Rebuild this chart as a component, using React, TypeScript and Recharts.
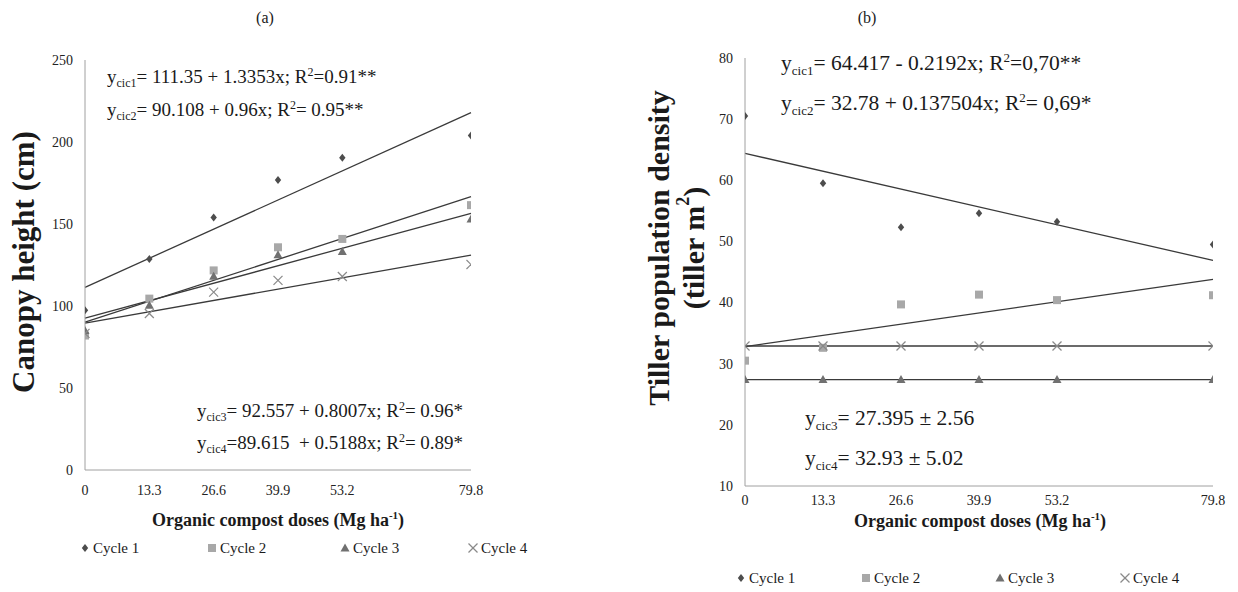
import React from 'react';
import { ComposedChart, Scatter, XAxis, YAxis, ReferenceLine, Customized } from 'recharts';

// ---- data ----
const doses = [0, 13.3, 26.6, 39.9, 53.2, 79.8];
const xTicks = [0, 13.3, 26.6, 39.9, 53.2, 79.8];
const heightTicks = [0, 50, 100, 150, 200, 250];
const tillerTicks = [10, 20, 30, 40, 50, 60, 70, 80];

const heightCycle1 = [97.4, 128.7, 154.0, 176.8, 190.4, 203.9];
const heightCycle2 = [82.0, 104.5, 121.7, 135.8, 140.9, 161.5];
const heightCycle3 = [85.0, 100.4, 118.2, 131.2, 133.2, 153.0];
const heightCycle4 = [83.3, 95.4, 108.5, 115.6, 118.0, 125.3];

const heightTrend1 = [111.35, 217.9];
const heightTrend2 = [90.1, 166.7];
const heightTrend3 = [92.6, 156.5];
const heightTrend4 = [89.6, 131.0];

const tillerCycle1 = [70.5, 59.5, 52.3, 54.6, 53.2, 49.5];
const tillerCycle2 = [30.5, 32.6, 39.7, 41.3, 40.4, 41.2];
const tillerCycle3 = [27.4, 27.4, 27.4, 27.4, 27.4, 27.4];
const tillerCycle4 = [32.9, 32.9, 32.9, 32.9, 32.9, 32.9];

const tillerTrend1 = [64.4, 46.9];
const tillerTrend2 = [32.8, 43.8];
const tillerTrend3 = [27.4, 27.4];
const tillerTrend4 = [32.9, 32.9];

const trendX = [0, 79.8];
const legendLabels = ['Cycle 1', 'Cycle 2', 'Cycle 3', 'Cycle 4'];

const toPoints = (ys: number[]) => doses.map((x, i) => ({ x, y: ys[i] }));
const toSegment = (ys: number[]) => trendX.map((x, i) => ({ x, y: ys[i] }));

// ---- styles ----
const FONT = 'Liberation Serif';
const TEXT = '#1a1a1a';
const AXIS = '#a0a0a0';
const TREND = '#3a3a3a';
const C1 = '#4d4d4d';
const C2 = '#a8a8a8';
const C3 = '#707070';
const C4 = '#8a8a8a';

const Diamond = (p: any) => {
  const { cx, cy } = p;
  if (cx == null || cy == null) return null;
  const s = 4;
  return <path d={`M${cx},${cy - s}L${cx + s * 0.8},${cy}L${cx},${cy + s}L${cx - s * 0.8},${cy}Z`} fill={C1} />;
};
const Square = (p: any) => {
  const { cx, cy } = p;
  if (cx == null || cy == null) return null;
  return <rect x={cx - 4} y={cy - 4} width={8} height={8} fill={C2} />;
};
const Triangle = (p: any) => {
  const { cx, cy } = p;
  if (cx == null || cy == null) return null;
  return <path d={`M${cx},${cy - 4.5}L${cx + 4.5},${cy + 3.5}L${cx - 4.5},${cy + 3.5}Z`} fill={C3} />;
};
const Cross = (p: any) => {
  const { cx, cy } = p;
  if (cx == null || cy == null) return null;
  const s = 4.5;
  return (
    <g stroke={C4} strokeWidth={1.2}>
      <line x1={cx - s} y1={cy - s} x2={cx + s} y2={cy + s} />
      <line x1={cx - s} y1={cy + s} x2={cx + s} y2={cy - s} />
    </g>
  );
};
const shapes = [Diamond, Square, Triangle, Cross];

const XTick = (p: any) => (
  <text x={p.x} y={p.y} dy="0.8em" textAnchor="middle" fontFamily={FONT} fontSize={14} fill="#222">
    {p.payload.value}
  </text>
);
const YTick = (p: any) => (
  <text x={p.x} y={p.y} dy="0.35em" textAnchor="end" fontFamily={FONT} fontSize={14} fill="#222">
    {p.payload.value}
  </text>
);

const Eq = ({ x, y, fs, sub, body, r2 }: { x: number; y: number; fs: number; sub: string; body: string; r2?: string }) => {
  const subFs = Math.round(fs * 0.62);
  const dSub = Math.round(fs * 0.22);
  const dSup = Math.round(fs * 0.35);
  return (
    <text x={x} y={y} fontFamily={FONT} fontSize={fs} fill={TEXT} style={{ whiteSpace: 'pre' }}>
      <tspan>y</tspan>
      <tspan fontSize={subFs} dy={dSub}>{sub}</tspan>
      <tspan fontSize={fs} dy={-dSub}>{body}</tspan>
      {r2 !== undefined && (
        <>
          <tspan fontSize={subFs} dy={-dSup}>2</tspan>
          <tspan fontSize={fs} dy={dSup}>{r2}</tspan>
        </>
      )}
    </text>
  );
};

const LegendRow = ({ y, xs }: { y: number; xs: number[] }) => (
  <g>
    {legendLabels.map((label, i) => {
      const Shape = shapes[i];
      return (
        <g key={label}>
          <Shape cx={xs[i]} cy={y} />
          <text x={xs[i] + 8} y={y} dy="0.35em" fontFamily={FONT} fontSize={15} fill={TEXT}>
            {label}
          </text>
        </g>
      );
    })}
  </g>
);

const XTitle = ({ cx, cy }: { cx: number; cy: number }) => (
  <text x={cx} y={cy} dy="0.35em" textAnchor="middle" fontFamily={FONT} fontSize={18} fontWeight="bold" fill={TEXT}>
    <tspan>Organic compost doses (Mg ha</tspan>
    <tspan fontSize={11} dy={-7}>-1</tspan>
    <tspan fontSize={18} dy={7}>)</tspan>
  </text>
);

const series = (data: number[][]) =>
  data.map((ys, i) => (
    <Scatter
      key={'s' + i}
      data={toPoints(ys)}
      dataKey="y"
      shape={shapes[i]}
      isAnimationActive={false}
    />
  ));

const trends = (data: number[][]) =>
  data.map((ys, i) => (
    <ReferenceLine
      key={'t' + i}
      segment={toSegment(ys) as any}
      stroke={TREND}
      strokeWidth={1.3}
      ifOverflow="visible"
    />
  ));

const LeftAnnotations = () => (
  <g>
    <text x={265} y={17} dy="0.35em" textAnchor="middle" fontFamily={FONT} fontSize={16} fill={TEXT}>(a)</text>
    <text
      transform="translate(23,262) rotate(-90)"
      textAnchor="middle"
      dominantBaseline="central"
      fontFamily={FONT}
      fontSize={31}
      fontWeight="bold"
      fill={TEXT}
    >
      Canopy height (cm)
    </text>
    <Eq x={107} y={83} fs={19} sub="cic1" body="= 111.35 + 1.3353x; R" r2="=0.91**" />
    <Eq x={107} y={116} fs={19} sub="cic2" body="= 90.108 + 0.96x; R" r2="= 0.95**" />
    <Eq x={197} y={417} fs={19} sub="cic3" body="= 92.557 + 0.8007x; R" r2="= 0.96*" />
    <Eq x={197} y={449} fs={19} sub="cic4" body="=89.615  + 0.5188x; R" r2="= 0.89*" />
    <XTitle cx={278} cy={520} />
    <LegendRow y={548} xs={[85, 212, 345, 473]} />
  </g>
);

const RightAnnotations = () => (
  <g>
    <text x={247} y={17} dy="0.35em" textAnchor="middle" fontFamily={FONT} fontSize={16} fill={TEXT}>(b)</text>
    <text
      transform="translate(38,248) rotate(-90)"
      textAnchor="middle"
      dominantBaseline="central"
      fontFamily={FONT}
      fontSize={30}
      fontWeight="bold"
      fill={TEXT}
    >
      Tiller population density
    </text>
    <text
      transform="translate(73,248) rotate(-90)"
      textAnchor="middle"
      dominantBaseline="central"
      fontFamily={FONT}
      fontSize={30}
      fontWeight="bold"
      fill={TEXT}
    >
      <tspan>(tiller m</tspan>
      <tspan fontSize={18} dy={-10}>2</tspan>
      <tspan fontSize={30} dy={10}>)</tspan>
    </text>
    <Eq x={161} y={70} fs={21.5} sub="cic1" body="= 64.417 - 0.2192x; R" r2="=0,70**" />
    <Eq x={161} y={110} fs={21.5} sub="cic2" body="= 32.78 + 0.137504x; R" r2="= 0,69*" />
    <Eq x={185} y={425} fs={21.5} sub="cic3" body="= 27.395 ± 2.56" />
    <Eq x={185} y={465} fs={21.5} sub="cic4" body="= 32.93 ± 5.02" />
    <XTitle cx={360} cy={521} />
    <LegendRow y={578} xs={[121, 246, 380, 505]} />
  </g>
);

export default function App() {
  return (
    <div style={{ position: 'absolute', left: 0, top: 0, width: 1238, height: 592, background: '#fff', fontFamily: FONT }}>
      <div style={{ position: 'absolute', left: 0, top: 0 }}>
        <ComposedChart width={620} height={592} margin={{ top: 60, right: 149, bottom: 92, left: 45 }} style={{ fontFamily: FONT }}>
          <XAxis
            type="number"
            dataKey="x"
            domain={[0, 79.8]}
            ticks={xTicks}
            interval={0}
            tickLine={false}
            tick={<XTick />}
            tickMargin={8}
            stroke={AXIS}
            height={30}
            allowDataOverflow
          />
          <YAxis
            type="number"
            dataKey="y"
            domain={[0, 250]}
            ticks={heightTicks}
            interval={0}
            tickLine={false}
            tick={<YTick />}
            tickMargin={6}
            stroke={AXIS}
            width={40}
          />
          {trends([heightTrend1, heightTrend2, heightTrend3, heightTrend4])}
          {series([heightCycle1, heightCycle2, heightCycle3, heightCycle4])}
          <Customized component={<LeftAnnotations />} />
        </ComposedChart>
      </div>
      <div style={{ position: 'absolute', left: 620, top: 0 }}>
        <ComposedChart width={618} height={592} margin={{ top: 58, right: 25, bottom: 76, left: 85 }} style={{ fontFamily: FONT }}>
          <XAxis
            type="number"
            dataKey="x"
            domain={[0, 79.8]}
            ticks={xTicks}
            interval={0}
            tickLine={false}
            tick={<XTick />}
            tickMargin={2}
            stroke={AXIS}
            height={30}
            allowDataOverflow
          />
          <YAxis
            type="number"
            dataKey="y"
            domain={[10, 80]}
            ticks={tillerTicks}
            interval={0}
            tickLine={false}
            tick={<YTick />}
            tickMargin={6}
            stroke={AXIS}
            width={40}
          />
          {trends([tillerTrend1, tillerTrend2, tillerTrend3, tillerTrend4])}
          {series([tillerCycle1, tillerCycle2, tillerCycle3, tillerCycle4])}
          <Customized component={<RightAnnotations />} />
        </ComposedChart>
      </div>
    </div>
  );
}
